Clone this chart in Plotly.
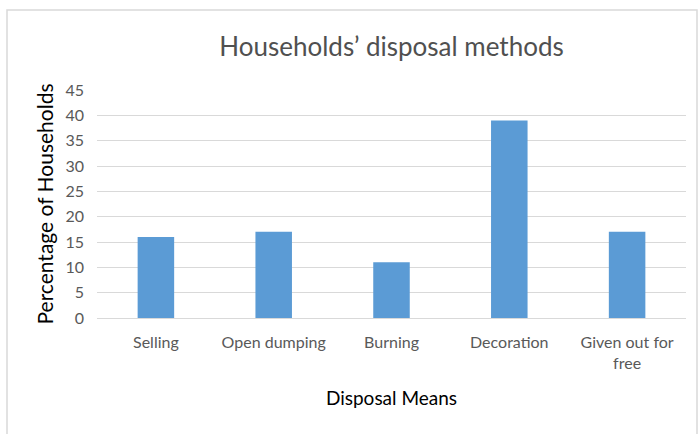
import plotly.graph_objects as go

categories = ["Selling", "Open dumping", "Burning", "Decoration", "Given out for<br>free"]
percent = [16, 17, 11, 39, 17]
y_ticks = [0, 5, 10, 15, 20, 25, 30, 35, 40, 45]

BAR = "#5B9BD5"
GREY_TXT = "#595959"
FONT = "Lato, Open Sans, sans-serif"

fig = go.Figure(go.Bar(x=categories, y=percent, marker_color=BAR,
                       marker_line_width=0, width=0.31))

L, R, T, B = 97, 13, 90, 116
W, H = 699, 434
pw, ph = W - L - R, H - T - B

fig.update_layout(
    width=W, height=H,
    margin=dict(l=L, r=R, t=T, b=B),
    paper_bgcolor="white", plot_bgcolor="white",
    showlegend=False,
    title=dict(text="Households’ disposal methods", x=0.5, xref="paper",
               xanchor="center", y=1 - 47 / H, yanchor="middle",
               font=dict(family=FONT, size=26, color="#505050")),
    font=dict(family=FONT),
)
fig.update_xaxes(showgrid=False, showline=True, linecolor="#D9D9D9",
                 tickfont=dict(size=16, color=GREY_TXT), ticks="",
                 ticklabelstandoff=10,
                 title=dict(text="Disposal Means", font=dict(size=19, color="black"),
                            standoff=20))
fig.update_yaxes(range=[0, 45], tickvals=y_ticks, showgrid=True,
                 gridcolor="#D9D9D9", gridwidth=1, zeroline=False, showline=False,
                 tickfont=dict(size=16, color=GREY_TXT), ticks="",
                 ticklabelstandoff=12,
                 title=dict(text="Percentage of Households",
                            font=dict(size=21, color="black"), standoff=6))

# chart area border
fig.add_shape(type="rect", xref="paper", yref="paper",
              x0=(7 - L) / pw, x1=(697 - L) / pw,
              y0=(H - B - 445) / ph, y1=(H - B - 10) / ph,
              line=dict(color="#D9D9D9", width=1.5), layer="below")

fig.write_html("out.html", config={"displayModeBar": False},
               post_script="document.body.style.margin='0';")
